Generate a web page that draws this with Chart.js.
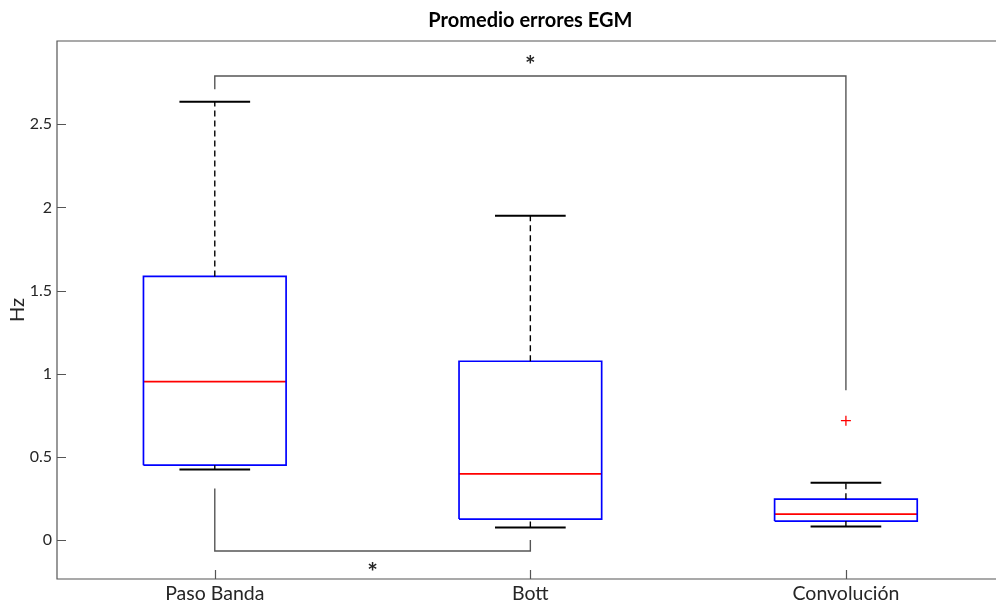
<!DOCTYPE html>
<html>
<head>
<meta charset="utf-8">
<script src="https://cdn.jsdelivr.net/npm/chart.js@4"></script>
<style>
  html, body { margin: 0; padding: 0; background: #fff; overflow: hidden; }
  canvas { display: block; }
</style>
</head>
<body>
<canvas id="chart" width="1010" height="603"></canvas>
<script>
// Box statistics per filtering method (Hz)
const categories  = ['Paso Banda', 'Bott', 'Convolución'];
const whiskerLow  = [0.424, 0.076, 0.082];
const q1          = [0.450, 0.126, 0.114];
const median      = [0.952, 0.398, 0.156];
const q3          = [1.585, 1.075, 0.246];
const whiskerHigh = [2.635, 1.950, 0.344];
const outliers    = [[], [], [0.718]];
const yTicks      = [0, 0.5, 1, 1.5, 2, 2.5];

// Significance brackets (x = category index, y = Hz) and their markers
const bracketTop    = [[1, 2.71], [1, 2.79], [3, 2.79], [3, 0.90]];
const bracketBottom = [[1, 0.31], [1, -0.066], [2, -0.066], [2, 0.0]];
const starMarks     = [{ x: 2, y: 2.89, text: '*' }, { x: 1.5, y: -0.158, text: '*' }];

const BOX_HALF = 0.226;
const CAP_HALF = 0.112;
const FONT = 'Lato, "Open Sans", sans-serif';

function seg(points, style) {
  return Object.assign({
    data: points.map(([x, y]) => ({ x, y })),
    showLine: true, pointRadius: 0, pointHoverRadius: 0, fill: false, tension: 0
  }, style);
}

const whiskerStyle = { borderColor: '#000000', borderWidth: 1.4, borderDash: [6, 4] };
const capStyle     = { borderColor: '#000000', borderWidth: 2 };
const boxStyle     = { borderColor: '#0000ff', borderWidth: 1.7 };
const medianStyle  = { borderColor: '#ff0000', borderWidth: 1.8 };
const bracketStyle = { borderColor: '#555555', borderWidth: 1.4 };

const datasets = [];
categories.forEach((name, i) => {
  const x = i + 1;
  datasets.push(seg([[x, q3[i]], [x, whiskerHigh[i]]], whiskerStyle));
  datasets.push(seg([[x, whiskerLow[i]], [x, q1[i]]], whiskerStyle));
  datasets.push(seg([[x - CAP_HALF, whiskerHigh[i]], [x + CAP_HALF, whiskerHigh[i]]], capStyle));
  datasets.push(seg([[x - CAP_HALF, whiskerLow[i]], [x + CAP_HALF, whiskerLow[i]]], capStyle));
  datasets.push(seg([[x - BOX_HALF, q1[i]], [x + BOX_HALF, q1[i]], [x + BOX_HALF, q3[i]],
                     [x - BOX_HALF, q3[i]], [x - BOX_HALF, q1[i]]], boxStyle));
  datasets.push(seg([[x - BOX_HALF, median[i]], [x + BOX_HALF, median[i]]], medianStyle));
  if (outliers[i].length) {
    datasets.push({
      data: outliers[i].map(y => ({ x, y })),
      showLine: false, pointStyle: 'cross', pointRadius: 5, pointHoverRadius: 5,
      borderColor: '#ff0000', pointBorderWidth: 1.3
    });
  }
});
datasets.push(seg(bracketTop, bracketStyle));
datasets.push(seg(bracketBottom, bracketStyle));

// Axes frame with inward tick marks (left, bottom, top edges)
const axesFrame = {
  id: 'axesFrame',
  beforeDatasetsDraw(chart) {
    const { ctx, chartArea: a, scales: { x, y } } = chart;
    ctx.save();
    ctx.strokeStyle = '#555555';
    ctx.lineWidth = 1.2;
    ctx.beginPath();
    ctx.moveTo(a.right + 2, a.top); ctx.lineTo(a.left, a.top);
    ctx.lineTo(a.left, a.bottom); ctx.lineTo(a.right + 2, a.bottom);
    y.ticks.forEach(t => {
      const py = Math.round(y.getPixelForValue(t.value)) + 0.5;
      ctx.moveTo(a.left, py); ctx.lineTo(a.left + 9, py);
    });
    x.ticks.forEach(t => {
      const px = Math.round(x.getPixelForValue(t.value)) + 0.5;
      ctx.moveTo(px, a.bottom); ctx.lineTo(px, a.bottom - 9);
    });
    ctx.stroke();
    ctx.restore();
  }
};

// Significance markers, centred on their data position
const starLabels = {
  id: 'starLabels',
  afterDatasetsDraw(chart) {
    const { ctx, scales: { x, y } } = chart;
    ctx.save();
    ctx.fillStyle = '#262626';
    ctx.font = 'bold 25px ' + FONT;
    ctx.textAlign = 'center';
    ctx.textBaseline = 'alphabetic';
    starMarks.forEach(s => {
      const m = ctx.measureText(s.text);
      const shift = (m.actualBoundingBoxAscent - m.actualBoundingBoxDescent) / 2;
      ctx.fillText(s.text, x.getPixelForValue(s.x), y.getPixelForValue(s.y) + shift);
    });
    ctx.restore();
  }
};

new Chart(document.getElementById('chart'), {
  type: 'scatter',
  data: { datasets },
  plugins: [axesFrame, starLabels],
  options: {
    responsive: false,
    animation: false,
    events: [],
    layout: { padding: { left: 0, right: 5, top: 0, bottom: 0 } },
    plugins: {
      legend: { display: false },
      tooltip: { enabled: false },
      title: {
        display: true,
        fullSize: false,
        text: 'Promedio errores EGM',
        color: '#000000',
        font: { family: FONT, size: 20, weight: 'bold' },
        padding: { top: 9, bottom: 8 }
      }
    },
    scales: {
      x: {
        type: 'linear', min: 0.5, max: 3.5,
        grid: { display: false, drawTicks: false },
        border: { display: false },
        afterBuildTicks: s => { s.ticks = categories.map((c, i) => ({ value: i + 1 })); },
        afterFit: s => { s.height = 24; },
        ticks: {
          autoSkip: false, maxRotation: 0, padding: 3, color: '#262626',
          font: { family: FONT, size: 19.5 },
          callback: v => categories[Math.round(v) - 1]
        }
      },
      y: {
        type: 'linear', min: -0.234, max: 3.0,
        grid: { display: false, drawTicks: false },
        border: { display: false },
        afterBuildTicks: s => { s.ticks = yTicks.map(v => ({ value: v })); },
        afterFit: s => { s.width = 57; },
        ticks: {
          padding: 5, color: '#262626',
          font: { family: FONT, size: 16 },
          callback: v => String(v)
        },
        title: {
          display: true, text: 'Hz', color: '#262626',
          font: { family: FONT, size: 20 },
          padding: { top: 6, bottom: 0 }
        }
      }
    }
  }
});
</script>
</body>
</html>
